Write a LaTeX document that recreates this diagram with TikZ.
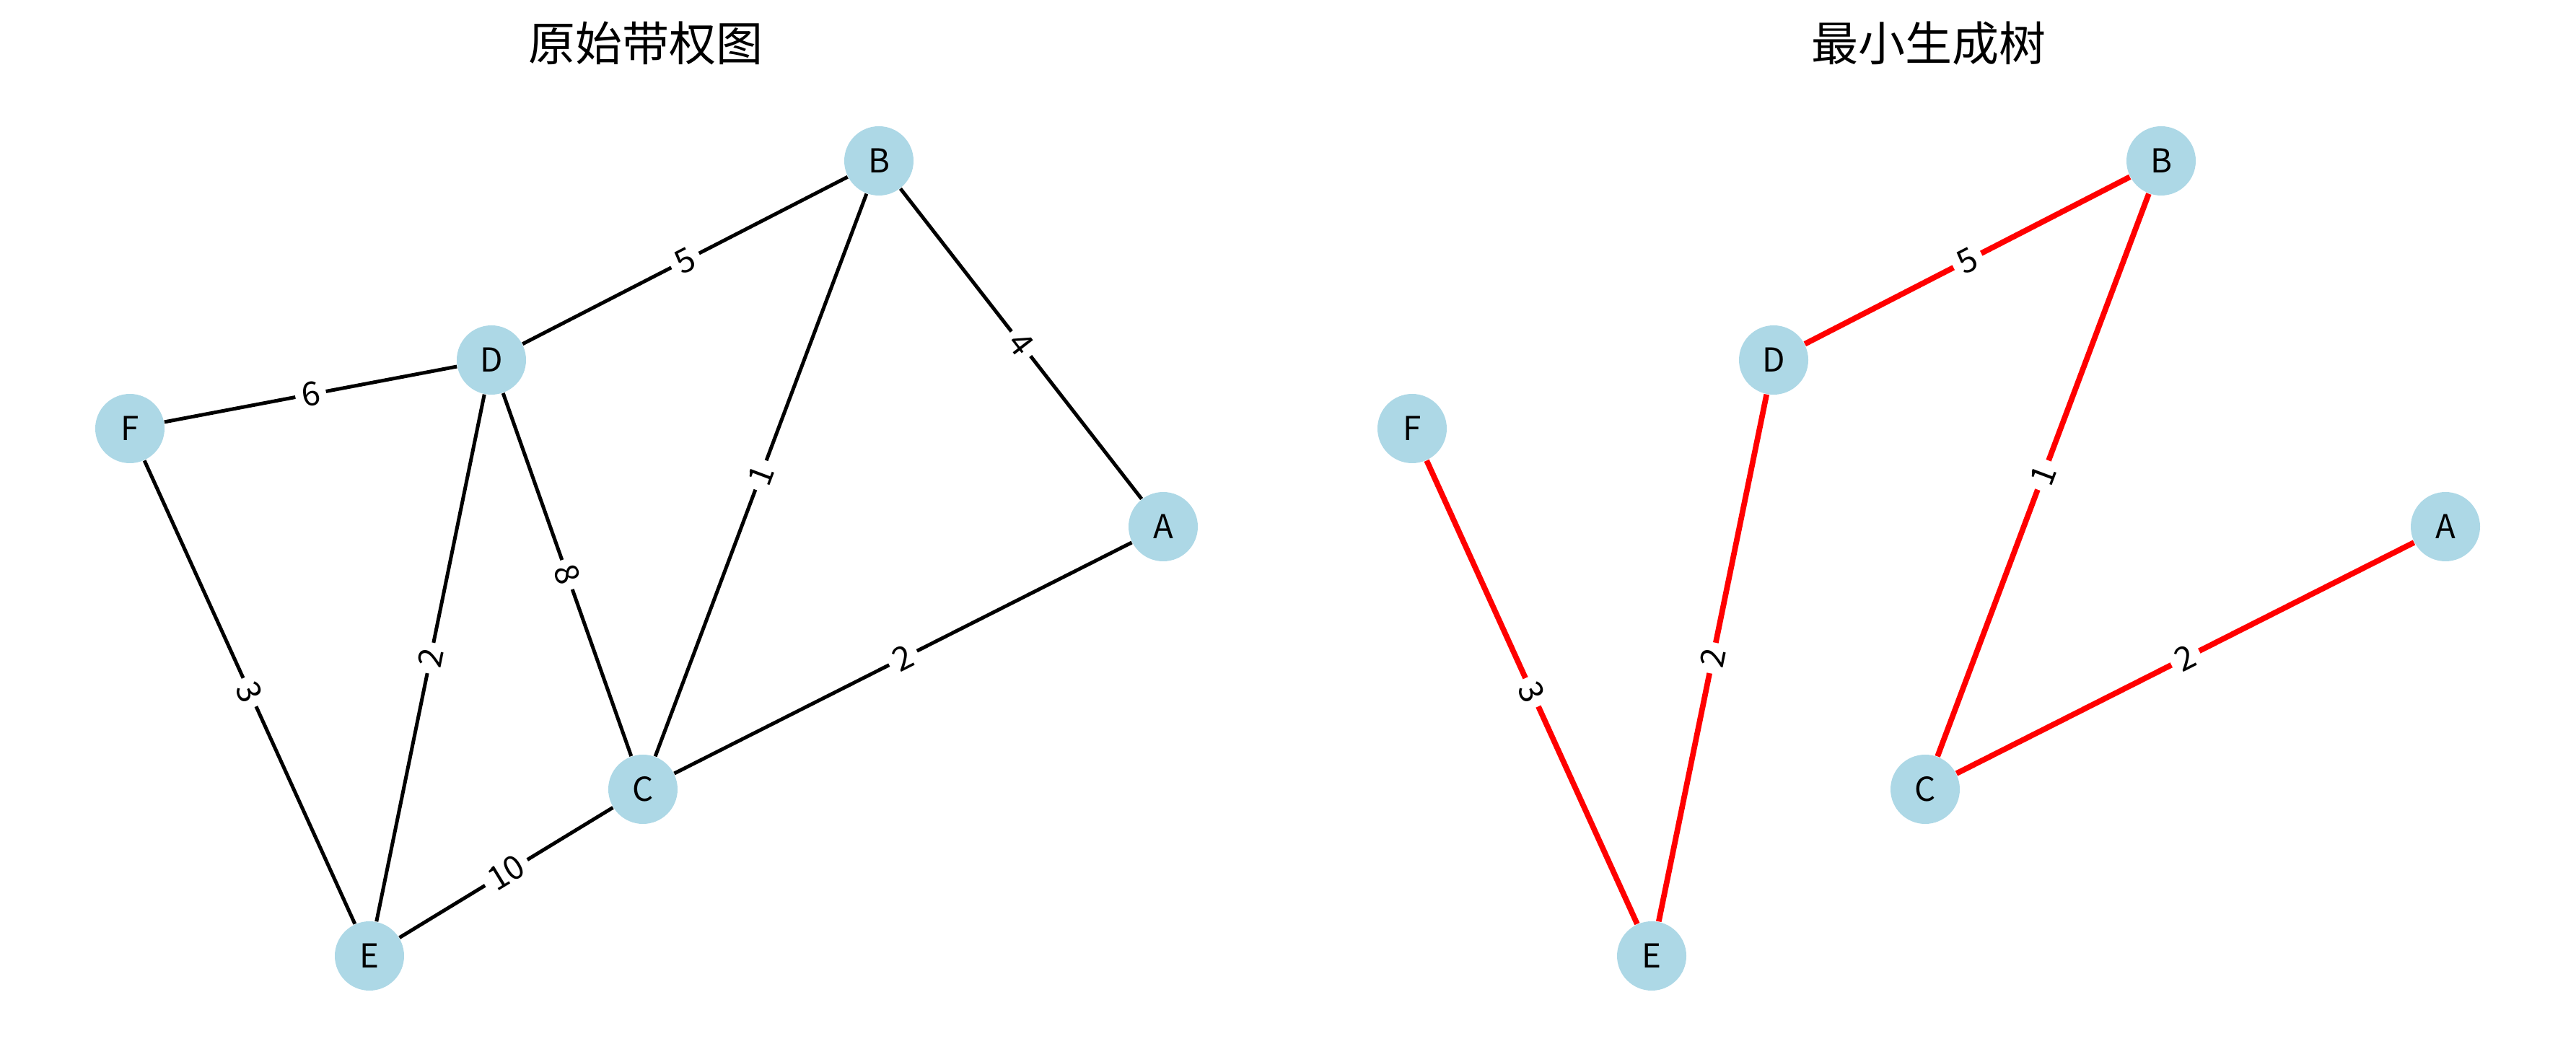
\documentclass[tikz,border=0pt]{standalone}
\usepackage{fontspec}
\setmainfont{Noto Sans CJK SC}
\usepackage{xcolor}
\usetikzlibrary{arrows.meta,positioning}
\definecolor{nodeblue}{HTML}{ADD8E6}

\begin{document}
\begin{tikzpicture}[
  vtx/.style={circle,fill=nodeblue,minimum size=0.96cm,inner sep=0pt,font=\fontsize{13}{15}\selectfont},
  wlbl/.style={fill=white,text=black,inner sep=2.5pt,sloped,midway,font=\fontsize{13}{15}\selectfont},
  plain/.style={line width=1.42pt,black},
  tree/.style={line width=2.2pt,red},
  ttl/.style={font=\fontsize{18.5}{22}\selectfont}]
  \useasboundingbox (0,0) rectangle (35.70,14.72);
  % 原始带权图
  \node[ttl] (t1) at (8.95,14.12) {原始带权图};
  \node[vtx] (B) at (12.18,12.49) {B};
  \node[vtx] (D) at (6.81,9.73) {D};
  \node[vtx] (F) at (1.80,8.78) {F};
  \node[vtx] (A) at (16.12,7.42) {A};
  \node[vtx] (C) at (8.91,3.78) {C};
  \node[vtx] (E) at (5.12,1.47) {E};
  \draw[plain] (B)--node[wlbl] {5}(D);
  \draw[plain] (B)--node[wlbl] {1}(C);
  \draw[plain] (B)--node[wlbl] {4}(A);
  \draw[plain] (D)--node[wlbl] {6}(F);
  \draw[plain] (D)--node[wlbl] {2}(E);
  \draw[plain] (D)--node[wlbl] {8}(C);
  \draw[plain] (F)--node[wlbl] {3}(E);
  \draw[plain] (E)--node[wlbl] {10}(C);
  \draw[plain] (C)--node[wlbl] {2}(A);
  % 最小生成树
  \node[ttl] (t2) at (26.73,14.12) {最小生成树};
  \node[vtx] (mB) at (29.95,12.49) {B};
  \node[vtx] (mD) at (24.58,9.73) {D};
  \node[vtx] (mF) at (19.57,8.78) {F};
  \node[vtx] (mA) at (33.89,7.42) {A};
  \node[vtx] (mC) at (26.68,3.78) {C};
  \node[vtx] (mE) at (22.89,1.47) {E};
  \draw[tree] (mD)--node[wlbl] {5}(mB);
  \draw[tree] (mB)--node[wlbl] {1}(mC);
  \draw[tree] (mF)--node[wlbl] {3}(mE);
  \draw[tree] (mD)--node[wlbl] {2}(mE);
  \draw[tree] (mC)--node[wlbl] {2}(mA);
\end{tikzpicture}
\end{document}
